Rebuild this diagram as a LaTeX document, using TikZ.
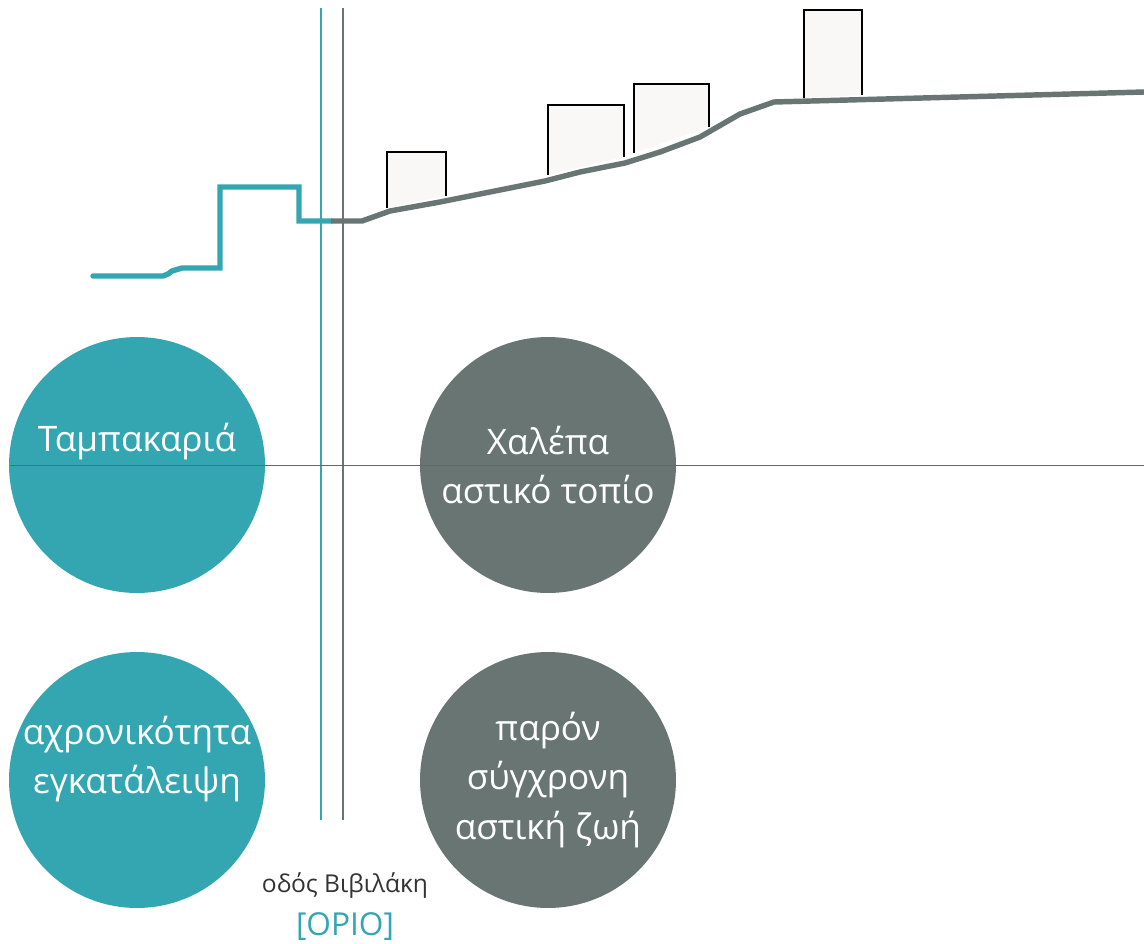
\documentclass[tikz,border=0pt]{standalone}
\usepackage{fontspec}
\setmainfont{Open Sans}
\usetikzlibrary{positioning}
\definecolor{sea}{HTML}{34A6B1}
\definecolor{slate}{HTML}{687573}
\definecolor{wall}{HTML}{F9F8F6}
\def\firsthouse{(387,208) -- (387,152) -- (446,152) -- (446,196)}
\def\secondhouse{(548,175) -- (548,105) -- (624,105) -- (624,157)}
\def\thirdhouse{(634,153) -- (634,84) -- (709,84) -- (709,127)}
\def\fourthhouse{(804,98) -- (804,10) -- (862,10) -- (862,95)}
\tikzset{
  place/.style={circle,minimum size=5.12cm,inner sep=0pt},
  word/.style={text=white,font=\fontsize{20}{28}\selectfont,align=center}
}

\begin{document}
\begin{tikzpicture}[x=0.02cm,y=-0.02cm]
			\useasboundingbox (0,0) rectangle (1144,944);
			% houses
			\fill[wall] \firsthouse -- cycle;
			\fill[wall] \secondhouse -- cycle;
			\fill[wall] \thirdhouse -- cycle;
			\fill[wall] \fourthhouse -- cycle;
			\draw[line width=1.1pt] \firsthouse;
			\draw[line width=1.1pt] \secondhouse;
			\draw[line width=1.1pt] \thirdhouse;
			\draw[line width=1.1pt] \fourthhouse;
			% ground
			\draw[sea,line width=3.1pt,line cap=round] (93,276) -- (163,276) -- (168,274) -- (172,271) -- (182,268) -- (220,268) -- (220,187) -- (299,187) -- (299,221) -- (331,221);
			\draw[slate,line width=3.1pt] (331,221) -- (362,221) -- (390,211) -- (440,202) -- (545,181) -- (580,172) -- (625,163) -- (660,152) -- (700,137) -- (740,114) -- (774,102) -- (1144,92);
			% border
			\draw[sea,line width=1.4pt] (321,8) -- (321,820);
			\draw[slate,line width=1.4pt] (343,8) -- (343,820);
			% places
			\node[place,fill=sea] (tampa) at (137,465) {};
			\node[place,fill=slate] (halepa) at (548,465) {};
			\node[place,fill=sea] (past) at (137,780) {};
			\node[place,fill=slate] (now) at (548,780) {};
			\draw[slate!90!black,line width=0.5pt] (10,465) -- (1144,465);
			\node[word] at ([yshift=0.46cm]tampa.center) {Ταμπακαριά};
			\node[word] at (halepa.center) {Χαλέπα\\αστικό τοπίο};
			\node[word] at ([yshift=0.42cm]past.center) {αχρονικότητα\\εγκατάλειψη};
			\node[word] at (now.center) {παρόν\\σύγχρονη\\αστική ζωή};
			\node[text=black!80,font=\fontsize{14}{16}\selectfont] (street) at (345,886) {οδός Βιβιλάκη};
			\node[text=sea,font=\fontsize{18}{20}\selectfont,below=0.02cm of street] (limit) {[ΟΡΙΟ]};
		\end{tikzpicture}
\end{document}
